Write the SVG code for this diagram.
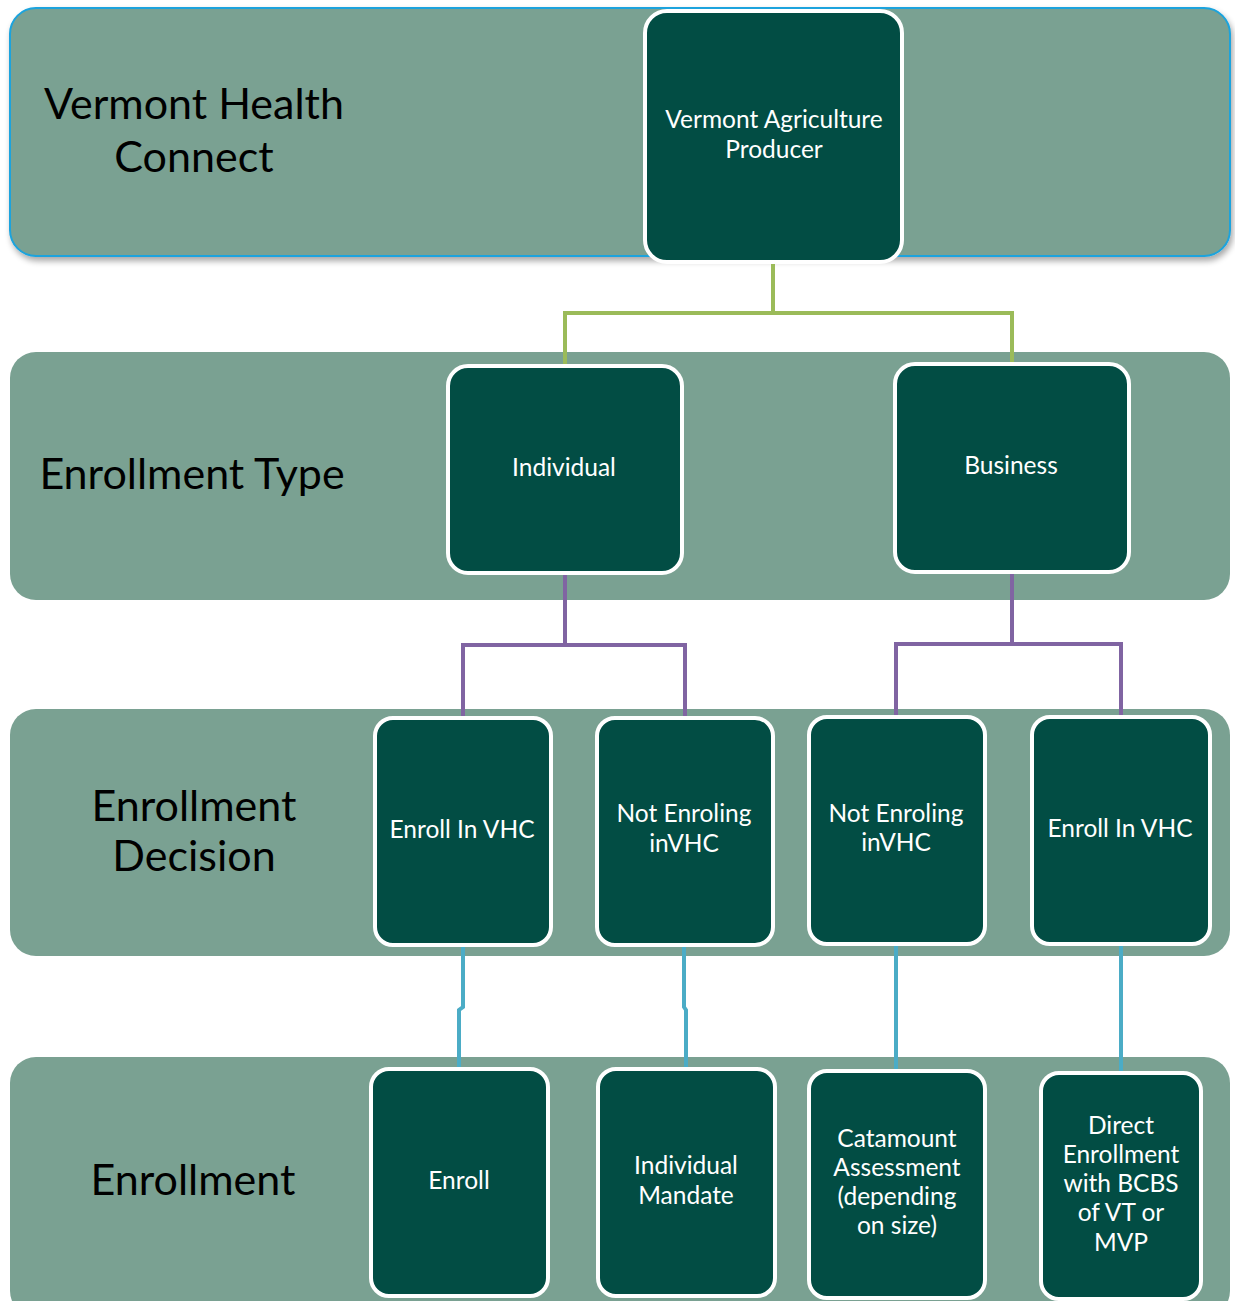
<svg xmlns="http://www.w3.org/2000/svg" width="1235" height="1301" viewBox="0 0 1235 1301">
<defs>
<filter id="sh" x="-5%" y="-10%" width="110%" height="125%">
<feGaussianBlur in="SourceAlpha" stdDeviation="3"/>
<feOffset dx="2" dy="4" result="b"/>
<feComponentTransfer><feFuncA type="linear" slope="0.35"/></feComponentTransfer>
<feMerge><feMergeNode/><feMergeNode in="SourceGraphic"/></feMerge>
</filter>
<style>
.band{fill:#7aa192}
.node{fill:#024d44;stroke:#ffffff;stroke-width:4}
.lbl{font-family:Lato,"Open Sans","Liberation Sans",sans-serif;font-size:43px;fill:#000;text-anchor:middle}
.nt{font-family:Lato,"Open Sans","Liberation Sans",sans-serif;font-size:24.5px;fill:#fff;text-anchor:middle}
.c{fill:none;stroke-width:4;stroke-linejoin:miter}
.g{stroke:#9bbb59}.p{stroke:#8064a2}.b{stroke:#4bacc6}
</style>
</defs>
<rect width="1235" height="1301" fill="#ffffff"/>
<g id="bands">
<rect class="band" x="10" y="8" width="1220" height="248" rx="26" stroke="#1aa3dd" stroke-width="2" filter="url(#sh)"/>
<rect class="band" x="10" y="352" width="1220" height="248" rx="26"/>
<rect class="band" x="10" y="709" width="1220" height="247" rx="26"/>
<rect class="band" x="10" y="1057" width="1220" height="260" rx="26"/>
</g>
<g id="band-labels">
<text class="lbl" x="194" y="119">Vermont Health</text>
<text class="lbl" x="194" y="172">Connect</text>
<text class="lbl" x="192" y="489">Enrollment Type</text>
<text class="lbl" x="194" y="821">Enrollment</text>
<text class="lbl" x="194" y="871">Decision</text>
<text class="lbl" x="193" y="1195">Enrollment</text>
</g>
<g id="connectors">
<path class="c g" d="M773 262V313H565V366M773 313H1012V364"/>
<path class="c p" d="M565 573V645H463V718M565 645H685V718"/>
<path class="c p" d="M1012 572V644H896V717M1012 644H1121V717"/>
<path class="c b" d="M463 945V1007L459 1010V1069"/>
<path class="c b" d="M684 945V1007L686 1010V1069"/>
<path class="c b" d="M896 944V1071"/>
<path class="c b" d="M1121 944V1073"/>
</g>
<g id="n-producer"><rect class="node" x="645" y="11" width="257" height="251" rx="22"/>
<text class="nt" x="774" y="128">Vermont Agriculture</text><text class="nt" x="774" y="158">Producer</text></g>
<g id="n-individual"><rect class="node" x="448" y="366" width="234" height="207" rx="20"/>
<text class="nt" x="564" y="476">Individual</text></g>
<g id="n-business"><rect class="node" x="895" y="364" width="234" height="208" rx="20"/>
<text class="nt" x="1011" y="474">Business</text></g>
<g id="n-enroll-vhc-1"><rect class="node" x="375" y="718" width="176" height="227" rx="18"/>
<text class="nt" x="462" y="838">Enroll In VHC</text></g>
<g id="n-not-enroling-1"><rect class="node" x="597" y="718" width="176" height="227" rx="18"/>
<text class="nt" x="684" y="822">Not Enroling</text><text class="nt" x="684" y="852">inVHC</text></g>
<g id="n-not-enroling-2"><rect class="node" x="809" y="717" width="176" height="227" rx="18"/>
<text class="nt" x="896" y="822">Not Enroling</text><text class="nt" x="896" y="851">inVHC</text></g>
<g id="n-enroll-vhc-2"><rect class="node" x="1032" y="717" width="178" height="227" rx="18"/>
<text class="nt" x="1120" y="837">Enroll In VHC</text></g>
<g id="n-enroll"><rect class="node" x="371" y="1069" width="177" height="227" rx="18"/>
<text class="nt" x="459" y="1189">Enroll</text></g>
<g id="n-mandate"><rect class="node" x="598" y="1069" width="177" height="227" rx="18"/>
<text class="nt" x="686" y="1174">Individual</text><text class="nt" x="686" y="1204">Mandate</text></g>
<g id="n-catamount"><rect class="node" x="809" y="1071" width="176" height="227" rx="18"/>
<text class="nt" x="897" y="1147">Catamount</text><text class="nt" x="897" y="1176">Assessment</text><text class="nt" x="897" y="1205">(depending</text><text class="nt" x="897" y="1234">on size)</text></g>
<g id="n-direct"><rect class="node" x="1041" y="1073" width="160" height="226" rx="18"/>
<text class="nt" x="1121" y="1134">Direct</text><text class="nt" x="1121" y="1163">Enrollment</text><text class="nt" x="1121" y="1192">with BCBS</text><text class="nt" x="1121" y="1221">of VT or</text><text class="nt" x="1121" y="1251">MVP</text></g>
</svg>
